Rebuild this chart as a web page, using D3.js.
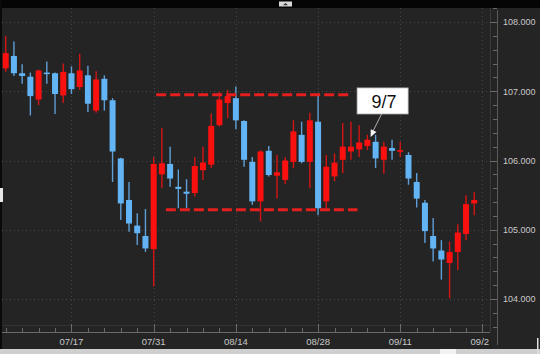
<!DOCTYPE html>
<html><head><meta charset="utf-8">
<script src="https://cdn.jsdelivr.net/npm/d3@7"></script>
<style>html,body{margin:0;padding:0;background:#252525;overflow:hidden}svg{display:block}</style>
</head><body><svg id="c" width="540" height="354"></svg>
<script>
const dates = ["07/05","07/06","07/07",
"07/10","07/11","07/12","07/13","07/14",
"07/17","07/18","07/19","07/20","07/21",
"07/24","07/25","07/26","07/27","07/28",
"07/31","08/01","08/02","08/03","08/04",
"08/07","08/08","08/09","08/10","08/11",
"08/14","08/15","08/16","08/17","08/18",
"08/21","08/22","08/23","08/24","08/25",
"08/28","08/29","08/30","08/31","09/01",
"09/04","09/05","09/06","09/07","09/08",
"09/11","09/12","09/13","09/14","09/15",
"09/18","09/19","09/20","09/21","09/22"];
const open = [107.33,107.51,107.26,107.21,106.88,107.27,107.26,106.94,107.26,107.06,
107.23,106.72,107.18,106.87,106.03,105.43,105.06,104.91,104.72,105.80,
105.95,105.62,105.55,105.53,105.86,105.94,106.51,106.83,106.90,106.57,
105.98,105.41,106.14,105.78,105.72,105.98,106.37,105.98,106.56,105.41,
105.77,106.01,106.13,106.16,106.21,106.27,106.01,106.18,106.13,106.08,
105.69,105.39,104.91,104.70,104.52,104.68,104.94,105.38];
const high = [107.80,107.72,107.39,107.27,107.31,107.43,107.27,107.40,107.36,107.54,
107.37,107.29,107.23,106.90,106.04,105.69,105.24,105.30,106.05,106.47,
106.20,105.87,105.73,106.05,106.20,106.68,106.99,107.02,107.07,106.58,
106.05,106.15,106.21,106.08,106.05,106.58,106.56,106.69,106.95,106.08,
106.10,106.54,106.56,106.51,106.37,106.37,106.27,106.30,106.27,106.12,
105.82,105.43,105.17,104.85,104.83,105.08,105.50,105.54];
const low = [107.28,107.22,107.11,106.65,106.80,107.11,106.67,106.83,106.96,107.02,
106.70,106.69,106.72,105.69,105.14,104.97,104.78,104.68,104.18,105.60,
105.62,105.31,105.31,105.48,105.72,105.89,106.49,106.61,106.45,105.91,
105.36,105.12,105.77,105.45,105.66,105.89,105.96,105.60,105.21,105.31,
105.70,105.82,106.01,106.05,106.15,105.89,105.81,106.01,106.05,105.65,
105.32,104.81,104.54,104.28,104.01,104.42,104.85,105.21];
const close = [107.55,107.26,107.22,106.93,107.30,107.25,106.96,107.28,107.03,107.30,
106.82,107.17,106.87,106.13,105.38,105.09,104.95,104.73,105.95,105.96,
105.74,105.59,105.52,105.92,105.97,106.50,106.88,106.93,106.58,106.01,
105.41,106.13,105.79,105.83,106.00,106.42,105.98,106.58,105.31,105.91,
105.97,106.20,106.20,106.26,106.30,106.03,106.20,106.14,106.15,105.74,
105.45,104.98,104.73,104.57,104.68,104.96,105.37,105.43];
const xTickLabels = ["07/17","07/31","08/14","08/28","09/11","09/25"];
const extraAxisDates = ["09/25"];
const yTickValues = [104,105,106,107,108];
const levelPrices = [106.95, 105.29];
const levelFrom = ["07/31","08/01"];
const levelTo = ["08/31","09/01"];
const noteText = "9/7";
const noteDate = "09/06";
const notePrice = 106.34;

const svg = d3.select("#c");
const W = 540, H = 354;
const plotL = 2, plotR = 490, plotT = 8, plotB = 332;

const axisDates = dates.concat(extraAxisDates);
const x = d3.scaleBand().domain(axisDates).range([1.6, 1.6 + axisDates.length * 8.22]).padding(0);
const step = x.bandwidth();
const cx = d => x(d) + step / 2;
const y = d3.scaleLinear().domain([104, 108]).range([299, 22]);

// background
svg.append("rect").attr("width", W).attr("height", H).attr("fill", "#242424");
svg.append("rect").attr("width", W).attr("height", plotT).attr("fill", "#050505");
svg.append("rect").attr("x", 0).attr("y", 0).attr("width", 2).attr("height", H).attr("fill", "#0a0a0a");
svg.append("rect").attr("x", 279).attr("y", 1.5).attr("width", 13).attr("height", 5).attr("fill", "#d8d8d8");
svg.append("path").attr("d", "M283,5.2 L285.5,3 L288,5.2 Z").attr("fill", "#333");
svg.append("rect").attr("x", 0).attr("y", 188).attr("width", 3).attr("height", 14).attr("fill", "#e8e8e8");
svg.append("rect").attr("x", 0).attr("y", 349).attr("width", W).attr("height", 5).attr("fill", "#cfcfcf");
svg.append("rect").attr("x", 440).attr("y", 349).attr("width", 16).attr("height", 5).attr("fill", "#f2f2f2");
svg.append("rect").attr("x", 537).attr("y", 338).attr("width", 1.5).attr("height", 16).attr("fill", "#e0e0e0");

// grid
const grid = svg.append("g");
grid.selectAll("line.h").data(yTickValues).join("line")
  .attr("x1", plotL).attr("x2", plotR)
  .attr("y1", d => Math.round(y(d)) + 0.5).attr("y2", d => Math.round(y(d)) + 0.5)
  .attr("stroke", "#454545").attr("stroke-width", 1).attr("stroke-dasharray", "1,3");
grid.selectAll("line.v").data(xTickLabels).join("line")
  .attr("x1", d => Math.round(cx(d)) + 0.5).attr("x2", d => Math.round(cx(d)) + 0.5)
  .attr("y1", plotT).attr("y2", 325)
  .attr("stroke", "#454545").attr("stroke-width", 1).attr("stroke-dasharray", "1,3");
svg.append("line").attr("x1", plotL).attr("x2", plotR).attr("y1", 325.5).attr("y2", 325.5)
  .attr("stroke", "#333").attr("stroke-width", 1);
svg.append("line").attr("x1", plotR + 0.5).attr("x2", plotR + 0.5).attr("y1", plotT).attr("y2", plotB)
  .attr("stroke", "#3a3a3a").attr("stroke-width", 1);

// x axis
const xa = svg.append("g");
xa.append("line").attr("x1", plotL).attr("x2", plotR).attr("y1", plotB + 0.5).attr("y2", plotB + 0.5)
  .attr("stroke", "#6a6a6a");
const minorIdx = axisDates.map((d, i) => i).filter(i => i % 2 === 0);
xa.selectAll("line.mt").data(minorIdx).join("line")
  .attr("x1", i => Math.round(cx(axisDates[i])) + 0.5).attr("x2", i => Math.round(cx(axisDates[i])) + 0.5)
  .attr("y1", plotB - 4).attr("y2", plotB).attr("stroke", "#6a6a6a");
xa.selectAll("line.Mt").data(xTickLabels).join("line")
  .attr("x1", d => Math.round(cx(d)) + 0.5).attr("x2", d => Math.round(cx(d)) + 0.5)
  .attr("y1", plotB - 8).attr("y2", plotB).attr("stroke", "#6a6a6a");
svg.append("clipPath").attr("id", "xlabclip").append("rect").attr("x", 0).attr("y", 330).attr("width", 489).attr("height", 20);
xa.append("g").attr("clip-path", "url(#xlabclip)").selectAll("text").data(xTickLabels).join("text")
  .attr("x", d => cx(d)).attr("y", 344.5).attr("text-anchor", "middle")
  .attr("font-family", "Liberation Sans, Arial, sans-serif").attr("font-size", 9.5)
  .attr("fill", "#c8c8c8").text(d => d);

// y axis
const ya = svg.append("g");
const axX = 497;
ya.append("line").attr("x1", axX + 0.5).attr("x2", axX + 0.5).attr("y1", plotT + 2).attr("y2", 345).attr("stroke", "#5a5a5a");
const minorY = d3.range(103.6, 108.21, 0.2);
ya.selectAll("line.my").data(minorY).join("line")
  .attr("x1", axX - 4).attr("x2", axX)
  .attr("y1", d => Math.round(y(d)) + 0.5).attr("y2", d => Math.round(y(d)) + 0.5).attr("stroke", "#6a6a6a");
ya.selectAll("line.My").data(yTickValues).join("line")
  .attr("x1", axX - 7).attr("x2", axX)
  .attr("y1", d => Math.round(y(d)) + 0.5).attr("y2", d => Math.round(y(d)) + 0.5).attr("stroke", "#6a6a6a");
ya.selectAll("text").data(yTickValues).join("text")
  .attr("x", 503).attr("y", d => y(d) + 3.3)
  .attr("font-family", "Liberation Sans, Arial, sans-serif").attr("font-size", 9)
  .attr("fill", "#c8c8c8").text(d => d3.format(".3f")(d));

// candles
svg.append("clipPath").attr("id", "pclip").append("rect").attr("x", plotL).attr("y", plotT).attr("width", plotR - plotL).attr("height", plotB - plotT);
const RED = "#fb1010", BLUE = "#63b4f4";
const cg = svg.append("g").attr("clip-path", "url(#pclip)");
const idx = dates.map((d, i) => i);
const up = i => close[i] >= open[i];
cg.selectAll("line.w").data(idx).join("line")
  .attr("x1", i => cx(dates[i])).attr("x2", i => cx(dates[i]))
  .attr("y1", i => y(high[i])).attr("y2", i => y(low[i]))
  .attr("stroke", i => up(i) ? "#d41414" : "#5f9fd6").attr("stroke-width", 1.4);
const bw = 6;
cg.selectAll("rect.b").data(idx).join("rect")
  .attr("x", i => cx(dates[i]) - bw / 2).attr("width", bw)
  .attr("y", i => y(Math.max(open[i], close[i])))
  .attr("height", i => Math.max(1.6, Math.abs(y(open[i]) - y(close[i]))))
  .attr("fill", i => up(i) ? RED : BLUE);

// range lines
const lv = levelPrices.map((p, k) => ({ p, a: levelFrom[k], b: levelTo[k] }));
cg.selectAll("line.lv").data(lv).join("line")
  .attr("x1", (d, k) => cx(d.a) + (k === 0 ? 2.5 : 4)).attr("x2", (d, k) => cx(d.b) + (k === 0 ? 5.5 : 6.5))
  .attr("y1", d => y(d.p)).attr("y2", d => y(d.p))
  .attr("stroke", "#e51e1e").attr("stroke-width", 3).attr("stroke-dasharray", "10,4");

// annotation
const tipX = cx(noteDate) - 5, tipY = y(notePrice);
const boxCx = tipX + 12, boxTop = y(notePrice) - 49, boxW = 51, boxH = 26;
const ag = svg.append("g");
const startX = tipX + 11, startY = boxTop + boxH;
ag.append("line").attr("x1", startX).attr("y1", startY).attr("x2", tipX + 1.5).attr("y2", tipY - 4)
  .attr("stroke", "#b0b0b0").attr("stroke-width", 1);
const ang = Math.atan2(tipY - startY, tipX - startX);
const hl = 7, hw = 3.2;
const bx = tipX - hl * Math.cos(ang), by = tipY - hl * Math.sin(ang);
ag.append("path").attr("d", `M${tipX},${tipY} L${bx + hw * Math.sin(ang)},${by - hw * Math.cos(ang)} L${bx - hw * Math.sin(ang)},${by + hw * Math.cos(ang)} Z`)
  .attr("fill", "#f4f4f4");
ag.append("rect").attr("x", boxCx - boxW / 2).attr("y", boxTop).attr("width", boxW).attr("height", boxH)
  .attr("fill", "#ffffff").attr("stroke", "#bbbbbb").attr("stroke-width", 0.8);
ag.append("text").attr("x", boxCx + 1.5).attr("y", boxTop + 20).attr("text-anchor", "middle")
  .attr("font-family", "Liberation Sans, Arial, sans-serif").attr("font-size", 18).attr("fill", "#111")
  .text(noteText);
</script></body></html>
